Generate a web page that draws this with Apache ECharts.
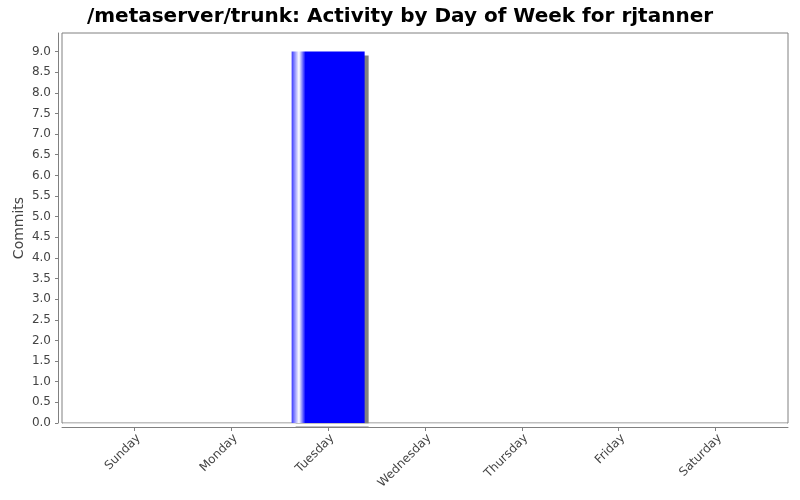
<!DOCTYPE html>
<html>
<head>
<meta charset="utf-8">
<script src="https://cdn.jsdelivr.net/npm/echarts@6/dist/echarts.min.js"></script>
<style>
  html, body { margin: 0; padding: 0; background: #fff; }
  #chart { width: 800px; height: 500px; }
</style>
</head>
<body>
<div id="chart"></div>
<script>
// 数据
const days = ['Sunday', 'Monday', 'Tuesday', 'Wednesday', 'Thursday', 'Friday', 'Saturday']
const commits = [0, 0, 9, 0, 0, 0, 0]
const yMax = 9.45 // 上方留 5% 空白

const axisGray = '#808080'
const labelColor = '#444'
const font = 'DejaVu Sans'

const myChart = echarts.init(document.getElementById('chart'))

const options = {
  animation: false,
  backgroundColor: '#fff',
  title: {
    text: '/metaserver/trunk: Activity by Day of Week for rjtanner',
    left: 'center',
    top: 2,
    textStyle: { fontFamily: font, fontSize: 20, fontWeight: 'bold', color: '#000' }
  },
  grid: [
    // 外框 + y 轴
    { left: 62, right: 12, top: 33, bottom: 77, show: true, borderColor: axisGray, borderWidth: 1, backgroundColor: '#fff' },
    // 柱子所在区域（两侧留边距）
    { left: 86, right: 36, top: 33, bottom: 77 }
  ],
  xAxis: [
    {
      gridIndex: 0,
      type: 'value',
      min: 0,
      max: 1,
      offset: 4,
      axisLine: { show: true, onZero: false, lineStyle: { color: axisGray } },
      axisTick: { show: false },
      axisLabel: { show: false },
      splitLine: { show: false }
    },
    {
      gridIndex: 1,
      type: 'category',
      data: days,
      offset: 4,
      axisLine: { show: false, onZero: false },
      axisTick: { show: true, alignWithLabel: true, length: 4, lineStyle: { color: axisGray } },
      axisLabel: {
        rotate: 45,
        margin: 5,
        align: 'right',
        verticalAlign: 'top',
        color: labelColor,
        fontFamily: font,
        fontSize: 12
      },
      splitLine: { show: false }
    }
  ],
  yAxis: [
    {
      gridIndex: 0,
      type: 'value',
      min: 0,
      max: yMax,
      interval: 0.5,
      offset: 4,
      name: 'Commits',
      nameLocation: 'middle',
      nameGap: 32,
      nameMoveOverlap: false,
      nameTextStyle: { fontFamily: font, fontSize: 14, color: labelColor },
      axisLine: { show: true, onZero: false, lineStyle: { color: axisGray } },
      axisTick: { show: true, length: 3, lineStyle: { color: axisGray } },
      axisLabel: {
        showMaxLabel: false,
        margin: 7,
        color: labelColor,
        fontFamily: font,
        fontSize: 12,
        formatter: (v) => v.toFixed(1)
      },
      splitLine: { show: false }
    },
    {
      gridIndex: 1,
      type: 'value',
      min: 0,
      max: yMax,
      show: false
    }
  ],
  // 遮住柱子阴影超出绘图区下沿的部分
  graphic: [
    {
      type: 'rect',
      left: 63,
      top: 423.5,
      shape: { width: 724, height: 3 },
      style: { fill: '#fff' },
      z: 100
    }
  ],
  series: [
    {
      type: 'bar',
      xAxisIndex: 1,
      yAxisIndex: 1,
      data: commits,
      barWidth: 73,
      itemStyle: {
        // 左侧高光渐变
        color: new echarts.graphic.LinearGradient(0, 0, 1, 0, [
          { offset: 0, color: '#3a3aff' },
          { offset: 0.1, color: '#ffffff' },
          { offset: 0.19, color: '#0000ff' },
          { offset: 1, color: '#0000ff' }
        ]),
        shadowColor: '#808080',
        shadowBlur: 0,
        shadowOffsetX: 4,
        shadowOffsetY: 4
      }
    }
  ]
}

myChart.setOption(options)
</script>
</body>
</html>
